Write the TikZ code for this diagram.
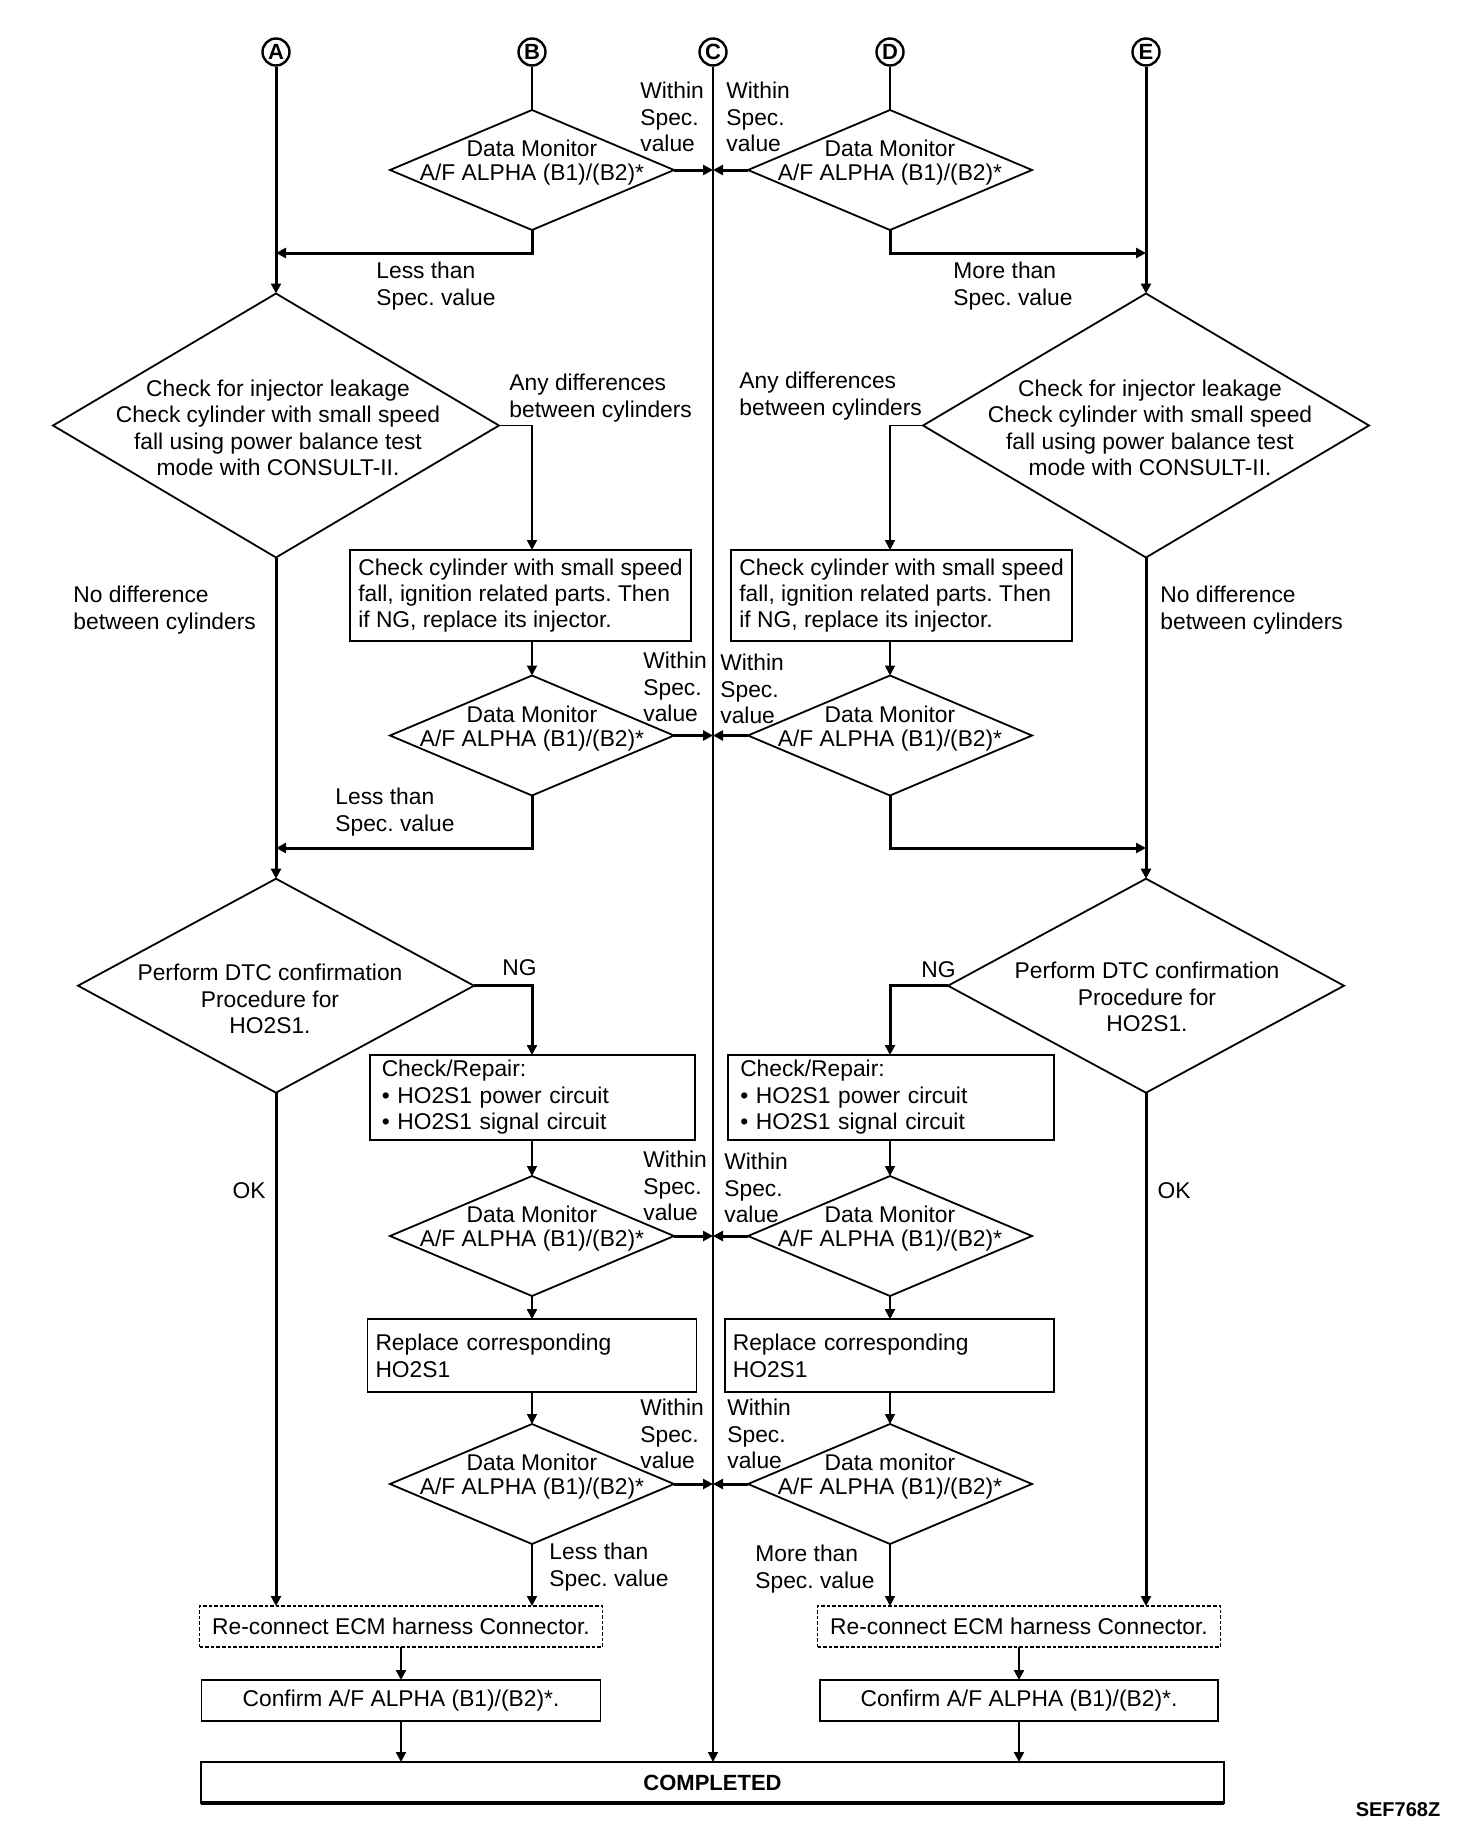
\documentclass[tikz,border=0pt]{standalone}
\usepackage{fontspec}
\setmainfont{Liberation Sans}
\usetikzlibrary{shapes.geometric, arrows.meta}
\frenchspacing

\tikzset{
  txt/.style={font=\fontsize{11.4}{13.2}\selectfont, inner sep=0pt, align=left},
  ctxt/.style={txt, align=center},
  dtxt/.style={font=\fontsize{11.4}{12}\selectfont, inner sep=0pt, align=center,
    yshift=3.5pt},
  letter/.style={circle, draw, line width=1.2pt, minimum size=13.5pt, inner sep=0pt,
    font=\bfseries\fontsize{11}{11}\selectfont},
  dmon/.style={diamond, draw, line width=0.9pt, inner sep=0pt, outer sep=0pt,
    minimum width=142pt, minimum height=60pt},
  bigdia/.style={diamond, draw, line width=0.9pt, inner sep=0pt, outer sep=0pt},
  stepbox/.style={rectangle, draw, line width=0.9pt, outer sep=0pt, inner ysep=0pt,
    align=left, font=\fontsize{11.4}{13.2}\selectfont},
  endbox/.style={rectangle, draw, line width=0.9pt, outer sep=0pt, inner sep=0pt,
    minimum height=20.5pt, align=center, font=\fontsize{11.4}{13.2}\selectfont},
  dashbox/.style={endbox, line width=0.6pt, dash pattern=on 1.8pt off 1pt},
  arr/.style={-{Triangle[length=5pt,width=5pt]}},
  lightline/.style={line width=0.9pt},
  lightarr/.style={arr, line width=0.9pt},
  midarr/.style={arr, line width=1.1pt},
  heavyarr/.style={arr, line width=1.5pt},
}

\begin{document}
\begin{tikzpicture}[x=0.5pt, y=-0.5pt]
  \path[use as bounding box, fill=white] (0,0) rectangle (1472,1842);

  % entry points
  \node[letter] (cA) at (276,52) {A};
  \node[letter] (cB) at (532,52) {B};
  \node[letter] (cC) at (713,52) {C};
  \node[letter] (cD) at (890,52) {D};
  \node[letter] (cE) at (1146,52) {E};

  % first data monitor check
  \node[dmon] (dB1) at (532,170) {};
  \node[dtxt] (tB1) at (dB1) {Data Monitor\\A/F ALPHA (B1)/(B2)*};
  \node[dmon] (dD1) at (890,170) {};
  \node[dtxt] (tD1) at (dD1) {Data Monitor\\A/F ALPHA (B1)/(B2)*};
  \node[txt, anchor=west] (wB1) at (640,117) {Within\\Spec.\\value};
  \node[txt, anchor=west] (wD1) at (726,117) {Within\\Spec.\\value};
  \node[txt, anchor=west] (lsB1) at (376,286) {Less than\\Spec. value};
  \node[txt, anchor=west] (mrD1) at (953,286) {More than\\Spec. value};

  % injector leakage
  \node[bigdia, minimum width=223pt, minimum height=132pt] (dA2) at (276,425.5) {};
  \node[ctxt] (tA2) at (278,428) {Check for injector leakage\\Check cylinder with small speed\\fall using power balance test\\mode with CONSULT-II.};
  \node[bigdia, minimum width=223pt, minimum height=132pt] (dE2) at (1146,425.5) {};
  \node[ctxt] (tE2) at (1150,428) {Check for injector leakage\\Check cylinder with small speed\\fall using power balance test\\mode with CONSULT-II.};
  \node[txt, anchor=west] (adA2) at (509,398) {Any differences\\between cylinders};
  \node[txt, anchor=west] (adE2) at (739,396) {Any differences\\between cylinders};
  \node[txt, anchor=west] (ndA2) at (73,610) {No difference\\between cylinders};
  \node[txt, anchor=west] (ndE2) at (1160,610) {No difference\\between cylinders};
  \node[stepbox, minimum width=170.5pt, minimum height=45.5pt] (bL1)
    at (520.5,595.5) {Check cylinder with small speed\\fall, ignition related parts. Then\\if NG, replace its injector.};
  \node[stepbox, minimum width=170.5pt, minimum height=45.5pt] (bR1)
    at (901.6,595.5) {Check cylinder with small speed\\fall, ignition related parts. Then\\if NG, replace its injector.};

  % second data monitor check
  \node[dmon] (dL3) at (532,735.5) {};
  \node[dtxt] (tL3) at (dL3) {Data Monitor\\A/F ALPHA (B1)/(B2)*};
  \node[dmon] (dR3) at (890,735.5) {};
  \node[dtxt] (tR3) at (dR3) {Data Monitor\\A/F ALPHA (B1)/(B2)*};
  \node[txt, anchor=west] (wL3) at (643,687) {Within\\Spec.\\value};
  \node[txt, anchor=west] (wR3) at (720,689) {Within\\Spec.\\value};
  \node[txt, anchor=west] (lsL3) at (335,812) {Less than\\Spec. value};

  % DTC confirmation
  \node[bigdia, minimum width=198pt, minimum height=107pt] (dA3) at (276,985.7) {};
  \node[ctxt] (tA3) at (270,999) {Perform DTC confirmation\\Procedure for\\HO2S1.};
  \node[bigdia, minimum width=198pt, minimum height=107pt] (dE3) at (1146,985.7) {};
  \node[ctxt] (tE3) at (1147,997) {Perform DTC confirmation\\Procedure for\\HO2S1.};
  \node[txt, anchor=west] (ngA3) at (502,968) {NG};
  \node[txt, anchor=west] (ngE3) at (921,970) {NG};
  \node[txt] (okA3) at (249,1191) {OK};
  \node[txt] (okE3) at (1174,1191) {OK};
  \node[stepbox, text width=150.75pt, inner xsep=6pt, minimum height=42.3pt] (bL2)
    at (532.5,1097.3) {Check/Repair:\\• HO2S1 power circuit\\• HO2S1 signal circuit};
  \node[stepbox, text width=150.75pt, inner xsep=6pt, minimum height=42.3pt] (bR2)
    at (891,1097.3) {Check/Repair:\\• HO2S1 power circuit\\• HO2S1 signal circuit};

  % third data monitor check
  \node[dmon] (dL4) at (532,1236) {};
  \node[dtxt] (tL4) at (dL4) {Data Monitor\\A/F ALPHA (B1)/(B2)*};
  \node[dmon] (dR4) at (890,1236) {};
  \node[dtxt] (tR4) at (dR4) {Data Monitor\\A/F ALPHA (B1)/(B2)*};
  \node[txt, anchor=west] (wL4) at (643,1186) {Within\\Spec.\\value};
  \node[txt, anchor=west] (wR4) at (724,1188) {Within\\Spec.\\value};
  \node[stepbox, text width=156.5pt, inner xsep=4pt, minimum height=36.5pt] (bL5)
    at (532,1355.7) {Replace corresponding\\HO2S1};
  \node[stepbox, text width=156.5pt, inner xsep=4pt, minimum height=36.5pt] (bR5)
    at (889.3,1355.7) {Replace corresponding\\HO2S1};

  % last data monitor check
  \node[dmon] (dL6) at (532,1484) {};
  \node[dtxt] (tL6) at (dL6) {Data Monitor\\A/F ALPHA (B1)/(B2)*};
  \node[dmon] (dR6) at (890,1484) {};
  \node[dtxt] (tR6) at (dR6) {Data monitor\\A/F ALPHA (B1)/(B2)*};
  \node[txt, anchor=west] (wL6) at (640,1434) {Within\\Spec.\\value};
  \node[txt, anchor=west] (wR6) at (727,1434) {Within\\Spec.\\value};
  \node[txt, anchor=west] (lsL6) at (549,1567) {Less than\\Spec. value};
  \node[txt, anchor=west] (mrR6) at (755,1569) {More than\\Spec. value};

  % final steps
  \node[dashbox, minimum width=201.5pt] (bL7) at (401,1626.5) {Re-connect ECM harness Connector.};
  \node[dashbox, minimum width=201.5pt] (bR7) at (1019,1626.5) {Re-connect ECM harness Connector.};
  \node[endbox, minimum width=199.5pt] (bL8) at (401,1700.5) {Confirm A/F ALPHA (B1)/(B2)*.};
  \node[endbox, minimum width=199pt] (bR8) at (1019,1700.5) {Confirm A/F ALPHA (B1)/(B2)*.};
  \node[endbox, minimum width=511.5pt, font=\bfseries\fontsize{11}{13}\selectfont] (done)
    at (712.5,1782.5) {COMPLETED};
  \draw[line width=2.2pt] (done.south west) -- (done.south east);
  \node[font=\bfseries\fontsize{10}{12}\selectfont, inner sep=0pt] (code) at (1398,1810) {SEF768Z};

  % A and E columns
  \draw[heavyarr] (cA) -- (dA2.north);
  \draw[heavyarr] (dA2.south) -- (dA3.north);
  \draw[heavyarr] (dA3.south) -- (cA |- bL7.north);
  \draw[heavyarr] (cE) -- (dE2.north);
  \draw[heavyarr] (dE2.south) -- (dE3.north);
  \draw[heavyarr] (dE3.south) -- (cE |- bR7.north);

  % B, C, D columns
  \draw[lightline] (cB) -- (dB1.north);
  \draw[lightline] (cD) -- (dD1.north);
  \draw[lightarr] (cC) -- (cC |- done.north);

  % within spec value
  \draw[heavyarr] (dB1.east) -- (dB1.east -| cC);
  \draw[heavyarr] (dD1.west) -- (dD1.west -| cC);
  \draw[heavyarr] (dL3.east) -- (dL3.east -| cC);
  \draw[heavyarr] (dR3.west) -- (dR3.west -| cC);
  \draw[heavyarr] (dL4.east) -- (dL4.east -| cC);
  \draw[heavyarr] (dR4.west) -- (dR4.west -| cC);
  \draw[heavyarr] (dL6.east) -- (dL6.east -| cC);
  \draw[heavyarr] (dR6.west) -- (dR6.west -| cC);

  % less / more than spec value
  \coordinate (jA1) at (276,253);
  \coordinate (jE1) at (1146,253);
  \coordinate (jA3) at (276,848);
  \coordinate (jE3) at (1146,848);
  \draw[heavyarr] (dB1.south) |- (jA1);
  \draw[heavyarr] (dD1.south) |- (jE1);
  \draw[heavyarr] (dL3.south) |- (jA3);
  \draw[heavyarr] (dR3.south) |- (jE3);

  % any differences
  \draw[lightarr] (dA2.east) -| (cB |- bL1.north);
  \draw[lightarr] (dE2.west) -| (cD |- bR1.north);
  \draw[lightarr] (cB |- bL1.south) -- (dL3.north);
  \draw[lightarr] (cD |- bR1.south) -- (dR3.north);

  % NG branch
  \draw[heavyarr] (dA3.east) -| (cB |- bL2.north);
  \draw[heavyarr] (dE3.west) -| (cD |- bR2.north);
  \draw[lightarr] (cB |- bL2.south) -- (dL4.north);
  \draw[lightarr] (cD |- bR2.south) -- (dR4.north);
  \draw[lightarr] (dL4.south) -- (cB |- bL5.north);
  \draw[lightarr] (dR4.south) -- (cD |- bR5.north);
  \draw[lightarr] (cB |- bL5.south) -- (dL6.north);
  \draw[lightarr] (cD |- bR5.south) -- (dR6.north);
  \draw[lightarr] (dL6.south) -- (cB |- bL7.north);
  \draw[lightarr] (dR6.south) -- (cD |- bR7.north);

  % to completed
  \draw[midarr] (bL7) -- (bL8);
  \draw[midarr] (bR7) -- (bR8);
  \draw[midarr] (bL8.south) -- (bL8.south |- done.north);
  \draw[midarr] (bR8.south) -- (bR8.south |- done.north);
\end{tikzpicture}
\end{document}
